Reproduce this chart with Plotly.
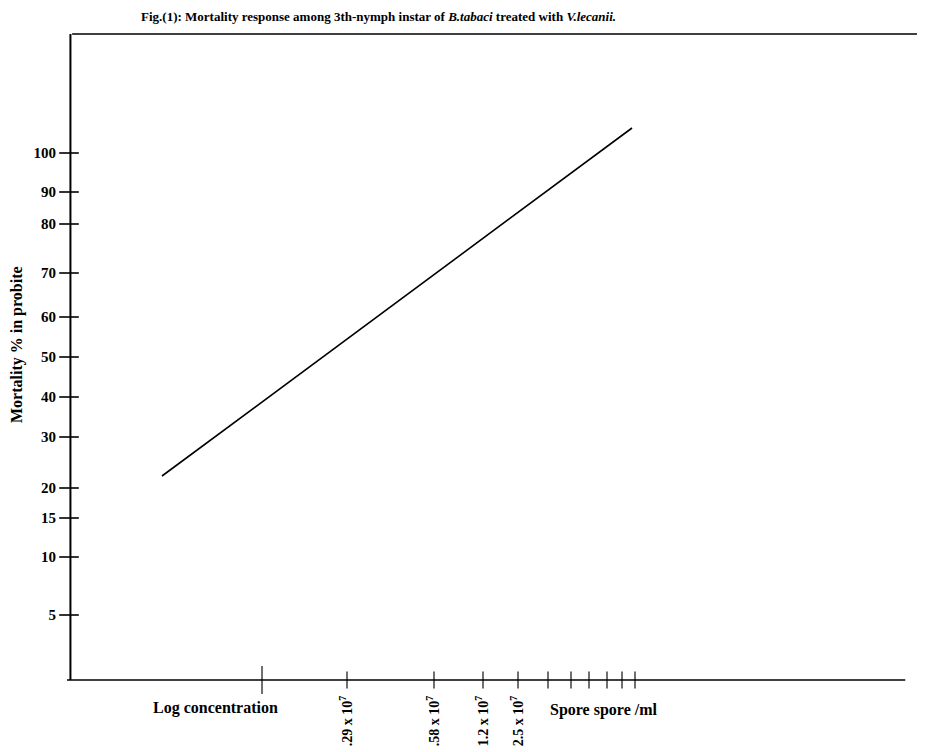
import plotly.graph_objects as go

# Hand-drawn probit-style y scale: tick labels and their positions (chart units)
y_tick_labels = ["100", "90", "80", "70", "60", "50", "40", "30", "20", "15", "10", "5"]
y_tick_pos = [527, 488, 456, 407, 363, 323, 283, 243, 192, 162, 123, 65]

# x axis (log concentration) tick positions (chart units)
x_tick_pos = [195, 280, 367, 416, 451, 481, 504, 522, 540, 555, 568]
x_label_pos = [280, 367, 416, 451]
x_label_text = [".29 x 10<sup>7</sup>", ".58 x 10<sup>7</sup>",
                "1.2 x 10<sup>7</sup>", "2.5 x 10<sup>7</sup>"]

# Regression (probit) line endpoints
line_x = [95, 565]
line_y = [204, 552]

FONT = "Liberation Serif"

# page offset (body margin of 8px)
L, T, B, R = 59, 26, 80, 8

fig = go.Figure()

fig.add_trace(go.Scatter(x=line_x, y=line_y, mode="lines",
                         line=dict(color="black", width=1.6),
                         hoverinfo="skip", showlegend=False))

# y ticks crossing the axis
fig.add_trace(go.Scatter(x=[2] * len(y_tick_pos), y=y_tick_pos, mode="markers",
                         cliponaxis=False,
                         marker=dict(symbol="line-ew", size=14,
                                     line=dict(color="black", width=1.6)),
                         hoverinfo="skip", showlegend=False))
# x ticks crossing the axis
fig.add_trace(go.Scatter(x=x_tick_pos, y=[0] * len(x_tick_pos), mode="markers",
                         cliponaxis=False,
                         marker=dict(symbol="line-ns", size=[20] + [12] * (len(x_tick_pos) - 1),
                                     line=dict(color="black", width=1.6)),
                         hoverinfo="skip", showlegend=False))

W, H = 925, 752
pw = W - L - R
ph = H - T - B

def px(xpix):
    return (xpix - 67) / pw

def py(ypix):
    return (680 - ypix) / ph

fig.update_layout(
    width=W, height=H,
    margin=dict(l=L, r=R, t=T, b=B),
    paper_bgcolor="white", plot_bgcolor="white",
    font=dict(family=FONT, color="black"),
    showlegend=False,
    xaxis=dict(range=[0, 858], showgrid=False, zeroline=False, showline=False,
               tickmode="array", tickvals=x_label_pos, ticktext=x_label_text,
               tickangle=-90, ticks="", ticklabelstandoff=12,
               tickfont=dict(family=FONT, size=14, weight="bold")),
    yaxis=dict(range=[0, 646], showgrid=False, zeroline=False, showline=False,
               tickmode="array", tickvals=y_tick_pos, ticktext=y_tick_labels,
               ticks="", ticklabelstandoff=10,
               tickfont=dict(family=FONT, size=15, weight="bold")),
    shapes=[
        # left axis
        dict(type="line", xref="paper", yref="paper", x0=0.004, x1=0.004, y0=0, y1=1,
             line=dict(color="black", width=2)),
        # top frame line
        dict(type="line", xref="paper", yref="paper", x0=0.006, x1=1, y0=1, y1=1,
             line=dict(color="black", width=1.5)),
        # bottom axis
        dict(type="line", xref="paper", yref="paper", x0=0, x1=0.977, y0=0, y1=0,
             line=dict(color="black", width=1.5)),
    ],
    annotations=[
        dict(text="<b>Fig.(1): Mortality response among 3th-nymph instar of <i>B.tabaci</i> treated with <i>V.lecanii.</i></b>",
             xref="paper", yref="paper", x=px(378), y=py(17), xanchor="center", yanchor="middle",
             showarrow=False, font=dict(family=FONT, size=13)),
        dict(text="<b>Mortality % in probite</b>", textangle=-90,
             xref="paper", yref="paper", x=px(17), y=py(345),
             xanchor="center", yanchor="middle", showarrow=False,
             font=dict(family=FONT, size=16)),
        dict(text="<b>Log concentration</b>",
             xref="paper", yref="paper", x=px(215), y=py(708),
             xanchor="center", yanchor="middle", showarrow=False,
             font=dict(family=FONT, size=16)),
        dict(text="<b>Spore spore /ml</b>",
             xref="paper", yref="paper", x=px(548), y=py(710),
             xanchor="left", yanchor="middle", showarrow=False,
             font=dict(family=FONT, size=16)),
    ],
)

fig.write_html("out.html")
